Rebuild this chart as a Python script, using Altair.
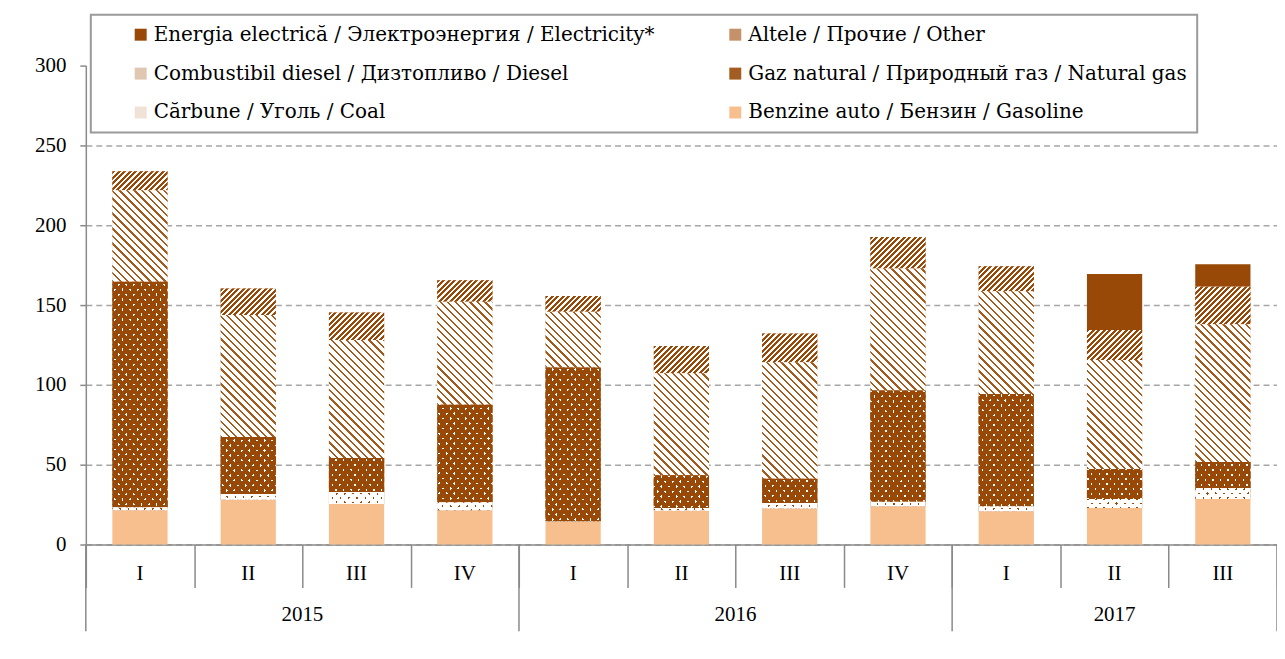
import math
import altair as alt
import pandas as pd

# ---- data ----
years = ["2015", "2015", "2015", "2015", "2016", "2016", "2016", "2016", "2017", "2017", "2017"]
quarters = ["I", "II", "III", "IV", "I", "II", "III", "IV", "I", "II", "III"]

series = [
    "Energia electrică / Электроэнергия / Electricity*",
    "Altele / Прочие / Other",
    "Combustibil diesel / Дизтопливо / Diesel",
    "Gaz natural / Природный газ / Natural gas",
    "Cărbune / Уголь / Coal",
    "Benzine auto / Бензин / Gasoline",
]
electricity = [0, 0, 0, 0, 0, 0, 0, 0, 0, 35.0, 14.1]
other = [11.9, 16.7, 17.3, 13.5, 9.8, 17.1, 18.1, 19.8, 15.6, 18.8, 23.6]
diesel = [57.3, 76.4, 73.9, 64.6, 35.0, 64.0, 72.9, 76.4, 64.5, 68.3, 86.2]
gas = [141.3, 35.6, 21.3, 61.0, 96.3, 20.4, 15.2, 69.8, 70.2, 18.8, 16.3]
coal = [1.9, 3.6, 7.5, 5.0, 0.3, 1.7, 3.5, 2.7, 3.2, 5.6, 6.9]
gasoline = [21.4, 28.1, 25.4, 21.5, 14.2, 21.2, 22.5, 24.0, 20.8, 22.9, 28.5]

# ---- styles ----
colors = ["#984807", "#c4916a", "#e0c7b2", "#a35c22", "#f0e2d6", "#f8bf8e"]
BROWN = "#984807"
WHITE = "#ffffff"
CLEAR = "rgba(255,255,255,0)"
# hatching: (normal angle deg, period px, line fraction, line colour)
stripe_style = {
    series[1]: (45, 3.9, 0.55, BROWN),      # wide upward diagonal ///
    series[2]: (-45, 5.3, 0.30, "#a45a1a"),  # light downward diagonal \\\
}
# dotted: (under colour, cover colour, in-row spacing, row spacing, gap px)
dot_style = {
    series[3]: (WHITE, BROWN, 7.6, 5.0, 1.7),
    series[4]: (BROWN, WHITE, 8.2, 4.3, 1.6),
}

FONT = "Liberation Serif"
LFONT = "DejaVu Serif"
GREY = "#8a8a8a"
W, H = 1194, 480
YMAX = 300
BAR_FRAC = 0.51


def banded_fill(h, w, theta_deg, period, bands):
    """Linear gradient in bounding-box units whose hard stops draw parallel bands
    with pixel-space normal angle theta and the given period."""
    th = math.radians(theta_deg)
    c, s = math.cos(th), math.sin(th)
    corners = [(0, 0), (1, 0), (0, 1), (1, 1)]
    proj = [cx * w * c + cy * h * s for cx, cy in corners]
    p1 = corners[proj.index(min(proj))]
    pf = corners[proj.index(max(proj))]
    gx, gy = c / h, s / w
    dot = (pf[0] - p1[0]) * gx + (pf[1] - p1[1]) * gy
    k = (gx * gx + gy * gy) / dot
    gx, gy = gx / k, gy / k
    extent = max(proj) - min(proj)
    n = max(1.0, extent / period)
    stops = []
    j = 0
    while j < n:
        acc = 0.0
        for frac, col in bands:
            a = min((j + acc) / n, 1.0)
            acc += frac
            b = min((j + acc) / n, 1.0)
            stops += [{"offset": a, "color": col}, {"offset": b, "color": col}]
        j += 1
    return {"gradient": "linear", "x1": p1[0], "y1": p1[1],
            "x2": p1[0] + gx, "y2": p1[1] + gy, "stops": stops}


# ---- tables built from the arrays ----
values_by_series = [electricity, other, diesel, gas, coal, gasoline]
bar_w_px = BAR_FRAC * W / len(quarters)
rows = []
for s_i, (name, vals) in enumerate(zip(series, values_by_series)):
    for i, v in enumerate(vals):
        h_px = v * H / YMAX
        under = f1 = f2 = None
        if h_px >= 0.6 and name in stripe_style:
            th, p, fr, col = stripe_style[name]
            f1 = banded_fill(h_px, bar_w_px, th, p, [(fr, col), (1 - fr, WHITE)])
        if h_px >= 0.6 and name in dot_style:
            under, cover, q, r, gap = dot_style[name]
            per = q * r / math.hypot(q / 2, r)
            ang = math.degrees(math.atan2(q / 2, r))
            bands = [(gap / per, CLEAR), (1 - gap / per, cover)]
            f1 = banded_fill(h_px, bar_w_px, ang, per, bands)
            f2 = banded_fill(h_px, bar_w_px, -ang, per, bands)
        rows.append({"idx": i, "series": name, "value": v,
                     "rank": len(series) - 1 - s_i, "under": under, "f1": f1, "f2": f2})

qdf = pd.DataFrame({"idx": list(range(len(quarters))), "quarter": quarters, "year": years})
bounds = [0] + [i for i in range(1, len(years)) if years[i] != years[i - 1]] + [len(years)]
bdf = pd.DataFrame({"b": bounds})

xscale = alt.Scale(domain=[0, len(quarters)], nice=False, zero=False)
yscale = alt.Scale(domain=[0, YMAX], nice=False)
half = BAR_FRAC / 2

base = (
    alt.Chart(alt.Data(values=rows))
    .transform_stack(stack="value", as_=["y0", "y1"], groupby=["idx"],
                     sort=[alt.SortField("rank", order="ascending")])
    .transform_calculate(xa=f"datum.idx + 0.5 - {half}", xb=f"datum.idx + 0.5 + {half}")
)

bars = base.mark_bar(strokeWidth=0).encode(
    x=alt.X("xa:Q", scale=xscale,
            axis=alt.Axis(values=list(range(len(quarters) + 1)), labels=False, title=None,
                          grid=False, tickSize=43, tickColor=GREY, tickWidth=1.5,
                          domainColor=GREY, domainWidth=1.5)),
    x2="xb:Q",
    y=alt.Y("y0:Q", scale=yscale,
            axis=alt.Axis(values=[0, 50, 100, 150, 200, 250, 300], title=None,
                          grid=True, gridDash=[6, 4], gridColor="#a6a6a6", gridWidth=1.5,
                          gridOpacity={"condition": {"test": f"datum.value >= {YMAX}", "value": 0},
                                       "value": 1},
                          tickSize=6, tickColor=GREY, tickWidth=1.5,
                          domainColor=GREY, domainWidth=1.5,
                          labelFont=FONT, labelFontSize=21, labelColor="#000000",
                          labelPadding=14)),
    y2="y1:Q",
    color=alt.Color(
        "series:N",
        scale=alt.Scale(domain=series, range=colors),
        legend=alt.Legend(
            title=None, orient="none", legendX=5, legendY=-51, direction="horizontal",
            columns=2, gridAlign="all", columnPadding=40, rowPadding=19, padding=10,
            symbolType="square", symbolSize=144, symbolOffset=30, symbolStrokeWidth=0,
            labelOffset=3, labelFont=LFONT, labelFontSize=20, labelColor="#000000",
            labelLimit=800, strokeColor="#9a9a9a", fillColor="#ffffff",
        ),
    ),
)


def overlay(field):
    return (
        base.transform_filter(f"datum.{field} != null")
        .mark_bar(strokeWidth=0)
        .encode(
            x=alt.X("xa:Q", scale=xscale),
            x2="xb:Q",
            y=alt.Y("y0:Q", scale=yscale),
            y2="y1:Q",
            fill=alt.Fill(f"{field}:N", scale=None, legend=None),
        )
    )


qlabels = (
    alt.Chart(qdf)
    .transform_calculate(xc="datum.idx + 0.5")
    .mark_text(font=FONT, fontSize=21, color="#000000", baseline="middle")
    .encode(x=alt.X("xc:Q", scale=xscale), y=alt.value(H + 30), text="quarter:N")
)

ylabels = (
    alt.Chart(qdf)
    .transform_aggregate(m="mean(idx)", groupby=["year"])
    .transform_calculate(xc="datum.m + 0.5")
    .mark_text(font=FONT, fontSize=21, color="#000000", baseline="middle")
    .encode(x=alt.X("xc:Q", scale=xscale), y=alt.value(H + 71), text="year:N")
)

yearsep = (
    alt.Chart(bdf)
    .mark_rule(color=GREY, strokeWidth=1.5)
    .encode(x=alt.X("b:Q", scale=xscale), y=alt.value(H), y2=alt.value(H + 87))
)

chart = (
    alt.layer(bars, overlay("under"), overlay("f1"), overlay("f2"), yearsep, qlabels, ylabels)
    .properties(width=W, height=H,
                autosize=alt.AutoSizeParams(type="none"),
                padding={"left": 78, "top": 57, "right": 0, "bottom": 100})
    .configure_view(stroke=None)
    .configure_legend(strokeWidth=2)
)

chart.save("out.html", embed_options={"renderer": "svg", "actions": False})
